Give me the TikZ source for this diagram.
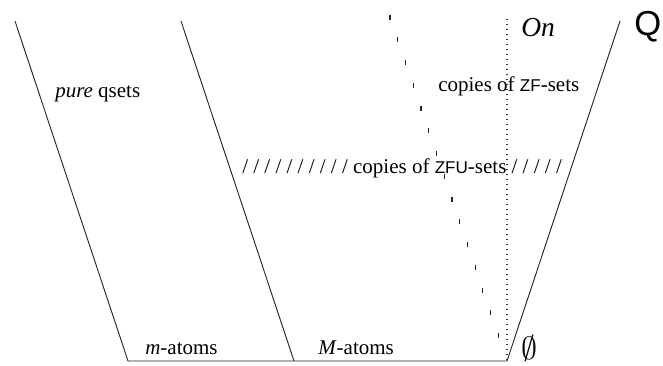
\documentclass[tikz,border=0pt]{standalone}
\usepackage{fix-cm}
\usepackage{fontspec}
\setmainfont{Liberation Serif}
\newfontfamily\hsans{Liberation Sans}
\usetikzlibrary{calc}
\begin{document}
\begin{tikzpicture}[x=0.75pt,y=-0.75pt,
  edge/.style={line width=0.7pt, black!85},
  dotline/.style={line width=0.8pt, black!80, dash pattern=on 0.8pt off 2.95pt},
  tickmark/.style={line width=0.9pt, black!85},
  lbl/.style={inner sep=0pt, anchor=base west, font=\fontsize{15.75}{18}\selectfont},
]
\useasboundingbox (0,0) rectangle (663,365);
% corner coordinates
\coordinate (lt) at (15,21);
\coordinate (lb) at (128,361);
\coordinate (mt) at (181,21);
\coordinate (mb) at (294,361);
\coordinate (rb) at (507,361);
\coordinate (rt) at (620,21);
\coordinate (dt) at (507,19);
\coordinate (tt) at (390,17);
% outline
\draw[edge] (lt) -- (lb) -- (rb) -- (rt);
\draw[edge] (mt) -- (mb);
% dotted vertical
\draw[dotline] (dt) -- (rb);
% sparse tick line
\foreach \k in {0,...,14}
  \draw[tickmark] ($(tt)!\k/15.12!(rb)$) ++(0,-2.5) -- ++(0,5);
% labels
\node[lbl] (pure) at (55,97) {\textit{pure} qsets};
\node[lbl] (zf) at (438,91) {copies of {\hsans\fontsize{12.8}{14}\selectfont ZF}-sets};
\node[lbl] (zfu) at (242,173) {/ / / / / / / / / / copies of {\hsans\fontsize{12.8}{14}\selectfont ZFU}-sets / / / / /};
\node[lbl, font=\fontsize{20.6}{24}\selectfont\itshape] (on) at (521,36) {On};
\node[inner sep=0pt, anchor=base west, font=\hsans\fontsize{26}{30}\selectfont] (q) at (634,35) {Q};
\node[lbl] (ma) at (145,354) {\textit{m}-atoms};
\node[lbl] (Ma) at (318,354) {\textit{M}-atoms};
\node[inner sep=0pt, anchor=base west] (empty) at (521,359) {\fontsize{24}{26}\selectfont$\emptyset$};
\end{tikzpicture}
\end{document}
